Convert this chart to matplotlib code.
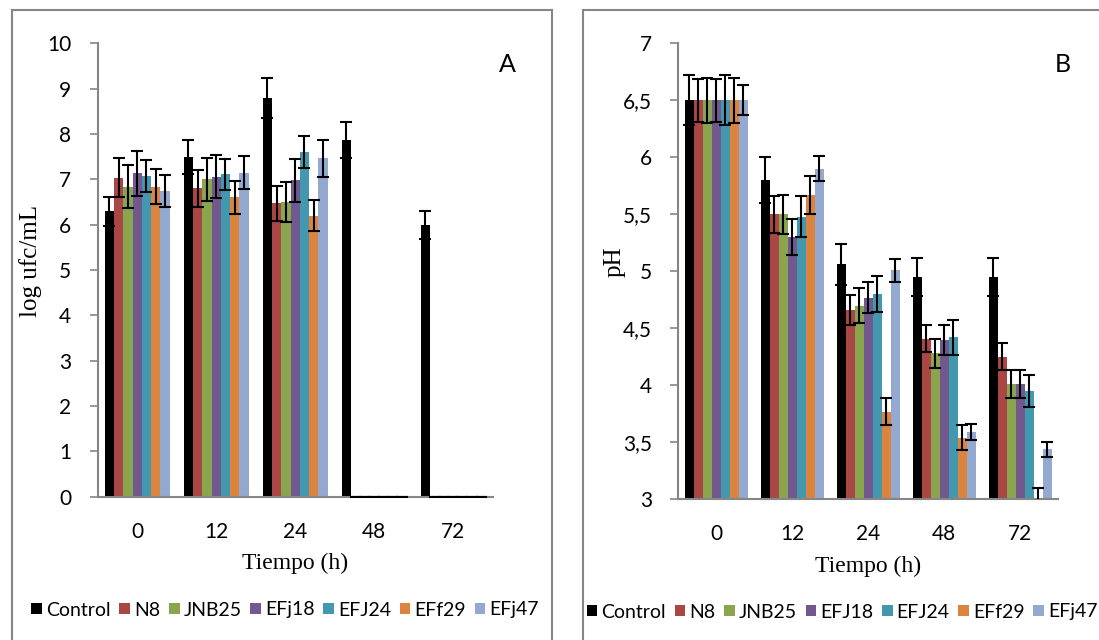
import numpy as np
import matplotlib
matplotlib.use("Agg")
import matplotlib.pyplot as plt
from matplotlib.patches import Rectangle
from matplotlib.ticker import FuncFormatter

plt.rcParams['font.family'] = ['Lato', 'DejaVu Sans']

times = ['0', '12', '24', '48', '72']
colors = ['#000000', '#AA4643', '#89A54E', '#71588F', '#4198AF', '#DB843D', '#93A9CF']

# A: recuentos (log ufc/mL)
names_a = ['Control', 'N8', 'JNB25', 'EFj18', 'EFJ24', 'EFf29', 'EFj47']
control_a = [6.30, 7.49, 8.79, 7.87, 5.99]
n8_a = [7.04, 6.80, 6.47, 0, 0]
jnb25_a = [6.84, 7.00, 6.50, 0, 0]
efj18_a = [7.13, 7.06, 6.98, 0, 0]
efj24_a = [7.07, 7.11, 7.60, 0, 0]
eff29_a = [6.84, 6.60, 6.20, 0, 0]
efj47_a = [6.74, 7.15, 7.46, 0, 0]
err_control_a = [0.32, 0.38, 0.44, 0.39, 0.31]
err_n8_a = [0.42, 0.40, 0.38, 0, 0]
err_jnb25_a = [0.47, 0.48, 0.44, 0, 0]
err_efj18_a = [0.50, 0.48, 0.47, 0, 0]
err_efj24_a = [0.36, 0.34, 0.36, 0, 0]
err_eff29_a = [0.39, 0.37, 0.34, 0, 0]
err_efj47_a = [0.36, 0.37, 0.41, 0, 0]

# B: pH
names_b = ['Control', 'N8', 'JNB25', 'EFJ18', 'EFJ24', 'EFf29', 'EFj47']
control_b = [6.50, 5.80, 5.06, 4.95, 4.95]
n8_b = [6.50, 5.50, 4.66, 4.41, 4.25]
jnb25_b = [6.50, 5.50, 4.70, 4.28, 4.01]
efj18_b = [6.50, 5.30, 4.77, 4.40, 4.01]
efj24_b = [6.50, 5.48, 4.80, 4.42, 3.95]
eff29_b = [6.50, 5.67, 3.77, 3.54, 3.00]
efj47_b = [6.50, 5.90, 5.01, 3.59, 3.44]
err_control_b = [0.22, 0.20, 0.18, 0.17, 0.17]
err_n8_b = [0.19, 0.16, 0.13, 0.12, 0.12]
err_jnb25_b = [0.20, 0.17, 0.15, 0.13, 0.12]
err_efj18_b = [0.19, 0.16, 0.14, 0.13, 0.12]
err_efj24_b = [0.22, 0.18, 0.16, 0.15, 0.14]
err_eff29_b = [0.20, 0.17, 0.12, 0.11, 0.10]
err_efj47_b = [0.13, 0.11, 0.10, 0.07, 0.065]

series_a = [control_a, n8_a, jnb25_a, efj18_a, efj24_a, eff29_a, efj47_a]
errors_a = [err_control_a, err_n8_a, err_jnb25_a, err_efj18_a, err_efj24_a, err_eff29_a, err_efj47_a]
series_b = [control_b, n8_b, jnb25_b, efj18_b, efj24_b, eff29_b, efj47_b]
errors_b = [err_control_b, err_n8_b, err_jnb25_b, err_efj18_b, err_efj24_b, err_eff29_b, err_efj47_b]

GRAY = '#868686'
W, H = 1099, 640


def draw_panel(ax, series, errors, names, ylim, yticks, ylabel, fmt=None):
    x = np.arange(len(times))
    n = len(series)
    group = 7 / 8.5
    w = group / n
    handles = []
    for i, (vals, errs) in enumerate(zip(series, errors)):
        pos = x - group / 2 + w * (i + 0.5)
        b = ax.bar(pos, vals, w, color=colors[i], label=names[i], zorder=2)
        handles.append(b)
        ax.errorbar(pos, vals, yerr=errs, fmt='none', ecolor='black',
                    elinewidth=1.5, capsize=4.5, capthick=1.5, zorder=3)
    ax.set_xlim(-0.5, len(times) - 0.5)
    ax.set_ylim(*ylim)
    ax.set_yticks(yticks)
    if fmt:
        ax.yaxis.set_major_formatter(FuncFormatter(fmt))
    ax.set_xticks(x)
    ax.set_xticklabels(times)
    for s in ['top', 'right']:
        ax.spines[s].set_visible(False)
    for s in ['left', 'bottom']:
        ax.spines[s].set_color(GRAY)
        ax.spines[s].set_linewidth(1.5)
    ax.tick_params(axis='y', length=6, width=1.2, color=GRAY, pad=13, labelsize=15)
    ax.tick_params(axis='x', length=0, pad=18, labelsize=15)
    ax.set_xlabel('Tiempo (h)', family='Liberation Serif', fontsize=17, labelpad=8)
    ax.set_ylabel(ylabel, family='Liberation Serif', fontsize=18)
    ax.yaxis.set_label_coords(-0.14, 0.52)
    return handles


fig = plt.figure(figsize=(W / 100, H / 100), dpi=100)

# marcos de cada panel
fig.patches.append(Rectangle((12 / W, -0.05), 540 / W, 1.05 - 10 / H, transform=fig.transFigure,
                             fill=False, edgecolor=GRAY, linewidth=1.5))
fig.patches.append(Rectangle((583 / W, -0.05), 0.6, 1.05 - 10 / H, transform=fig.transFigure,
                             fill=False, edgecolor=GRAY, linewidth=1.5))

ax1 = fig.add_axes([97.7 / W, 1 - 496.7 / H, 395 / W, (496.7 - 43.3) / H])
ax2 = fig.add_axes([678.3 / W, 1 - 499.3 / H, 380 / W, (499.3 - 43.3) / H])

h1 = draw_panel(ax1, series_a, errors_a, names_a, (0, 10), range(0, 11), 'log ufc/mL')
h2 = draw_panel(ax2, series_b, errors_b, names_b, (3, 7), np.arange(3, 7.01, 0.5), 'pH',
                fmt=lambda v, p: ('%g' % v).replace('.', ','))

fig.text(507 / W, 1 - 65 / H, 'A', fontsize=18, ha='center', va='center')
fig.text(1063 / W, 1 - 65 / H, 'B', fontsize=18, ha='center', va='center')

leg_kw = dict(ncol=7, frameon=False, fontsize=14, handlelength=0.55, handleheight=0.55,
              handletextpad=0.2, columnspacing=0.45, borderpad=0, loc='center')
fig.legend(handles=h1, labels=names_a, bbox_to_anchor=(285 / W, 1 - 610 / H), **leg_kw)
fig.legend(handles=h2, labels=names_b, bbox_to_anchor=(842 / W, 1 - 612 / H), **leg_kw)

fig.savefig('out.png', dpi=100)
